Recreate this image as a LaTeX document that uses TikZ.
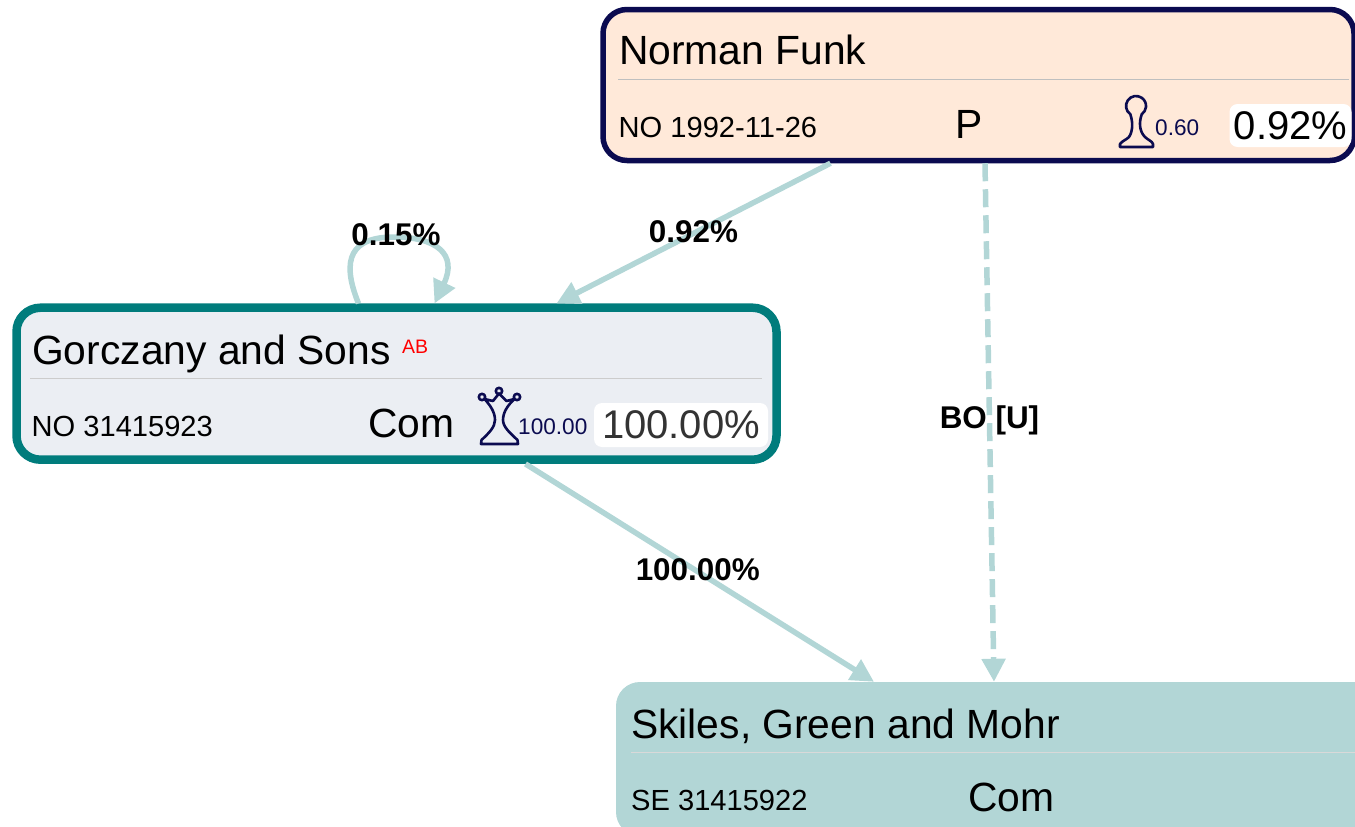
\documentclass[tikz,border=0pt]{standalone}
\usepackage{fontspec}
\setmainfont{Liberation Sans}
\usetikzlibrary{arrows.meta}
\definecolor{navy}{HTML}{0B0B50}
\definecolor{teal}{HTML}{007C7C}
\definecolor{edgecol}{HTML}{B2D6D6}
\definecolor{peach}{HTML}{FFE9D9}
\definecolor{paleblue}{HTML}{EBEEF3}
\tikzset{
    card/.style={rounded corners=24pt, inner sep=0pt, anchor=center},
    divider/.style={draw=#1, line width=1pt},
    big/.style={anchor=base west, inner sep=0pt, font=\fontsize{40.8}{48}\selectfont},
    small/.style={anchor=base west, inner sep=0pt, font=\fontsize{29.1}{34}\selectfont},
    score/.style={anchor=base west, inner sep=0pt, text=navy, font=\fontsize{22.6}{27}\selectfont},
    pill/.style={fill=white, rounded corners=8pt, inner sep=0pt, font=\fontsize{40}{48}\selectfont},
    link/.style={draw=edgecol, line width=5.5pt, -{Triangle[length=23pt,width=23pt]}},
    linklabel/.style={inner sep=0pt, text=black, font=\bfseries\fontsize{31.4}{38}\selectfont},
    icon/.style={draw=navy, line width=2.6pt, line join=round}
}
\begin{document}
\begin{tikzpicture}[x=1pt, y=-1pt]
    \path[clip, use as bounding box] (0,0) rectangle (1355,827);

    \node[card, draw=navy, fill=peach, line width=5.5pt, minimum width=751pt, minimum height=151pt] (funk) at (978.5,85) {};
    \node[card, draw=teal, fill=paleblue, line width=8.5pt, minimum width=760pt, minimum height=152pt] (gorczany) at (396.5,383.7) {};
    \node[card, fill=edgecol, minimum width=790pt, minimum height=154pt] (skiles) at (1011,759) {};

    % Norman Funk
    \node[big] (funkname) at (619,64) {Norman Funk};
    \draw[divider=black!25] (618,79) -- (1349,79);
    \node[small] (funkreg) at (618.5,137) {NO 1992-11-26};
    \node[big] (funktype) at (955,138) {P};
    \draw[icon] (1120,147) -- (1120,144) .. controls (1122,141) and (1126,140) .. (1129,137)
        .. controls (1133,131) and (1133,122) .. (1130.3,114.2)
        arc[start angle=125, end angle=415, radius=10]
        .. controls (1139,122) and (1139,131) .. (1145,137)
        .. controls (1148,140) and (1152,141) .. (1153,144) -- (1153,147) -- cycle;
    \node[score] (funkscore) at (1155,135) {0.60};
    \node[pill, minimum width=122pt, minimum height=43pt] (funkshare) at (1290.5,125.5) {0.92\%};

    % Gorczany and Sons
    \node[big] (gorczanyname) at (32,364) {Gorczany and Sons};
    \node[anchor=base west, inner sep=0pt, text=red, font=\fontsize{19.5}{24}\selectfont] (gorczanytag) at (402,353) {AB};
    \draw[divider=black!20] (30,378) -- (762,378);
    \node[small] (gorczanyreg) at (31.5,436) {NO 31415923};
    \node[big] (gorczanytype) at (368,437) {Com};
    \draw[icon] (481,444) -- (481.5,440) .. controls (489,433) and (495,427) .. (495,420)
        .. controls (495,412) and (490,405) .. (484.5,399)
        -- (493,401) -- (499,393.5) -- (506.5,401) -- (514.5,399)
        .. controls (508,405) and (503,412) .. (503,420)
        .. controls (503,427) and (510,433) .. (517.5,440) -- (518,444) -- cycle;
    \draw[icon] (482,397) circle (3.2pt) (499,391) circle (3.2pt) (517,397) circle (3.2pt);
    \node[score] (gorczanyscore) at (518,434) {100.00};
    \node[pill, text=black!80, minimum width=174pt, minimum height=44pt] (gorczanyshare) at (681,425) {100.00\%};

    % Skiles, Green and Mohr
    \node[big] (skilesname) at (631,738) {Skiles, Green and Mohr};
    \draw[divider=black!15] (631,752) -- (1355,752);
    \node[small] (skilesreg) at (631,810) {SE 31415922};
    \node[big] (skilestype) at (968,811) {Com};

    \draw[link] ([xshift=-148pt]funk.south) -- node[linklabel, yshift=2pt] (funklabel) {0.92\%} ([xshift=160pt]gorczany.north);
    \draw[link, dash pattern=on 18pt off 8pt] ([xshift=6.5pt]funk.south) -- node[linklabel, yshift=2pt] (bolabel) {BO [U]} ([xshift=-17pt]skiles.north);
    \draw[link] ([xshift=129pt]gorczany.south) -- node[linklabel, xshift=-2pt, yshift=3pt] (gorczanylabel) {100.00\%} ([xshift=-137pt]skiles.north);
    \coordinate (looptop) at (394,237);
    \draw[link] ([xshift=-38pt]gorczany.north) .. controls (340,258) and (352,237) .. (looptop)
        .. controls (436,237) and (458,254) .. ([xshift=38pt]gorczany.north);
    \node[linklabel] (looplabel) at (396,234.5) {0.15\%};
\end{tikzpicture}
\end{document}
